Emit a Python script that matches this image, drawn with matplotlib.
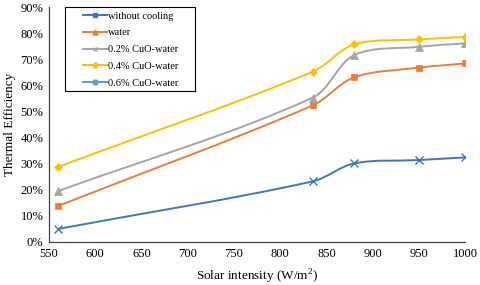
import numpy as np
import matplotlib.pyplot as plt
from matplotlib.path import Path
from matplotlib.patches import PathPatch, Rectangle
from matplotlib.lines import Line2D
from matplotlib.ticker import PercentFormatter

plt.rcParams['font.family'] = ['Liberation Serif', 'DejaVu Serif']
plt.rcParams['mathtext.fontset'] = 'custom'
plt.rcParams['mathtext.rm'] = 'Liberation Serif'

intensity = [560, 835, 880, 950, 1000]
no_cooling = [5.0, 23.2, 30.1, 31.4, 32.4]
water = [13.8, 52.3, 63.1, 66.8, 68.4]
cuo_02 = [19.5, 55.3, 71.6, 74.8, 76.1]
cuo_04 = [28.8, 65.2, 75.7, 77.6, 78.6]

legend_names = ['without cooling', 'water', '0.2% CuO-water',
                '0.4% CuO-water', '0.6% CuO-water']
colors = ['#4472C4', '#ED7D31', '#A5A5A5', '#FFC000', '#5B9BD5']


def smooth_path(ax, xs, ys, s=1/3.):
    # smoothed line like excel; bezier controls in pixel space,
    # tangent scaled by segment length so short segments don't overshoot
    pts = ax.transData.transform(np.column_stack([xs, ys]))
    n = len(pts)
    verts = [pts[0]]
    codes = [Path.MOVETO]
    for i in range(n - 1):
        p0 = pts[max(i - 1, 0)]
        p1 = pts[i]
        p2 = pts[i + 1]
        p3 = pts[min(i + 2, n - 1)]
        d01 = np.hypot(*(p1 - p0))
        d12 = np.hypot(*(p2 - p1))
        d23 = np.hypot(*(p3 - p2))
        c1 = p1 + (p2 - p0) * s * d12 / (d01 + d12)
        c2 = p2 - (p3 - p1) * s * d12 / (d12 + d23)
        verts += [c1, c2, p2]
        codes += [Path.CURVE4] * 3
    verts = ax.transData.inverted().transform(np.array(verts))
    return Path(verts, codes)


fig, ax = plt.subplots(figsize=(4.8, 2.85), dpi=100)
fig.subplots_adjust(left=0.102, right=0.969, top=0.975, bottom=0.151)

ax.set_xlim(550, 1000)
ax.set_ylim(0, 90)

series = [(no_cooling, colors[0], 'x', 6),
          (water, colors[1], 's', 5),
          (cuo_02, colors[2], '^', 5.5),
          (cuo_04, colors[3], 'D', 4.5)]
for vals, c, m, ms in series:
    ax.add_patch(PathPatch(smooth_path(ax, intensity, vals), fill=False,
                           edgecolor=c, lw=1.4))
    ax.plot(intensity, vals, ls='none', marker=m, color=c, ms=ms,
            mew=1.0 if m == 'x' else 0.5)

ax.set_xticks(np.arange(550, 1001, 50))
ax.set_yticks(np.arange(0, 91, 10))
ax.yaxis.set_major_formatter(PercentFormatter(decimals=0))
ax.tick_params(length=0, labelsize=9, pad=4)
for s in ['top', 'right']:
    ax.spines[s].set_visible(False)
for s in ['left', 'bottom']:
    ax.spines[s].set_color('#404040')
    ax.spines[s].set_linewidth(0.9)

ax.set_xlabel('Solar intensity (W/m$^{\\mathregular{2}}$)', fontsize=9.5,
              labelpad=6)
ax.set_ylabel('Thermal Efficiency', fontsize=9.5, labelpad=3)

handles = [Line2D([], [], color=colors[0], marker='s', ms=3.5, lw=1.4),
           Line2D([], [], color=colors[1], marker='^', ms=3.5, lw=1.4),
           Line2D([], [], color=colors[2], marker='x', ms=3.5, lw=1.4),
           Line2D([], [], color=colors[3], marker='D', ms=3, lw=1.4),
           Line2D([], [], color=colors[4], marker='o', ms=3.5, lw=1.4)]
leg = ax.legend(handles, legend_names, loc='upper left',
                bbox_to_anchor=(0.082, 0.982), fontsize=7.5, frameon=False,
                handlelength=2.3, handletextpad=0.1, labelspacing=0.72,
                borderpad=0, borderaxespad=0)
ax.add_patch(Rectangle((0.038, 0.643), 0.313, 0.357, transform=ax.transAxes,
                       fill=False, edgecolor='black', lw=0.8, clip_on=False,
                       zorder=5))

fig.savefig('out.png', dpi=100)
